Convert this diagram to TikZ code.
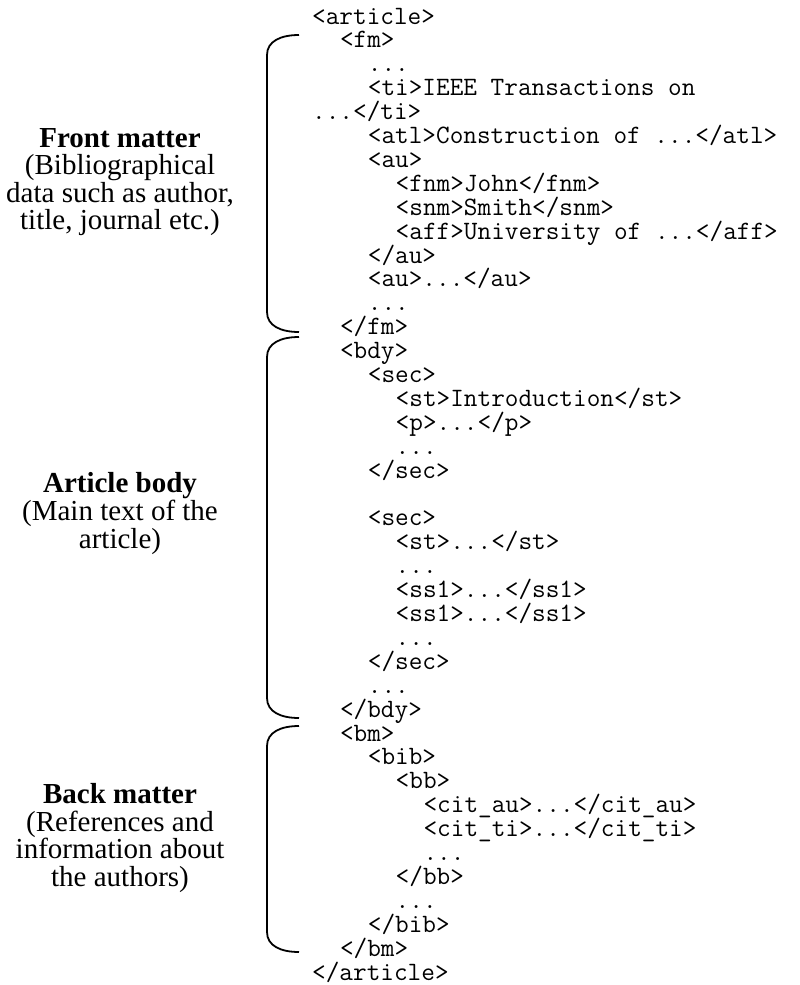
\documentclass[tikz,border=0pt]{standalone}
\usepackage{fontspec}
\setmainfont{Liberation Serif}

% one line of the XML listing: line number, indent (in characters), text
\newcommand\xmlline[3]{%
  \node[xmltext] (x#1) at ({312+13.92*#2},{24+23.9*(#1-1)}) {#3};}
% rounded bracket to the left of a block: name, top y, bottom y
\newcommand\sidebrace[3]{%
  \coordinate (#1t) at (299,#2);
  \coordinate (#1b) at (299,#3);
  \draw[bracestroke] (#1t) .. controls (281,#2) and (267,{#2+6}) .. (267,{#2+20})
    -- (267,{#3-20}) .. controls (267,{#3-6}) and (281,#3) .. (#1b);}

\begin{document}
\begin{tikzpicture}[x=1pt,y=-1pt,
  xmltext/.style={anchor=base west,inner sep=0pt,
    font=\ttfamily\fontsize{26.5}{23.9}\selectfont},
  lbl/.style={anchor=base,inner sep=0pt,
    font=\fontsize{29}{29}\selectfont},
  lblhead/.style={anchor=base,inner sep=0pt,
    font=\fontsize{29}{29}\selectfont\bfseries},
  bracestroke/.style={line width=1.8pt}]

\fill[white] (0,0) rectangle (800,985);
\useasboundingbox (0,0) rectangle (800,985);

% XML listing
\xmlline{1}{0}{<article>}
\xmlline{2}{2}{<fm>}
\xmlline{3}{4}{...}
\xmlline{4}{4}{<ti>IEEE Transactions on}
\xmlline{5}{0}{...</ti>}
\xmlline{6}{4}{<atl>Construction of ...</atl>}
\xmlline{7}{4}{<au>}
\xmlline{8}{6}{<fnm>John</fnm>}
\xmlline{9}{6}{<snm>Smith</snm>}
\xmlline{10}{6}{<aff>University of ...</aff>}
\xmlline{11}{4}{</au>}
\xmlline{12}{4}{<au>...</au>}
\xmlline{13}{4}{...}
\xmlline{14}{2}{</fm>}
\xmlline{15}{2}{<bdy>}
\xmlline{16}{4}{<sec>}
\xmlline{17}{6}{<st>Introduction</st>}
\xmlline{18}{6}{<p>...</p>}
\xmlline{19}{6}{...}
\xmlline{20}{4}{</sec>}
\xmlline{22}{4}{<sec>}
\xmlline{23}{6}{<st>...</st>}
\xmlline{24}{6}{...}
\xmlline{25}{6}{<ss1>...</ss1>}
\xmlline{26}{6}{<ss1>...</ss1>}
\xmlline{27}{6}{...}
\xmlline{28}{4}{</sec>}
\xmlline{29}{4}{...}
\xmlline{30}{2}{</bdy>}
\xmlline{31}{2}{<bm>}
\xmlline{32}{4}{<bib>}
\xmlline{33}{6}{<bb>}
\xmlline{34}{8}{<cit\_au>...</cit\_au>}
\xmlline{35}{8}{<cit\_ti>...</cit\_ti>}
\xmlline{36}{8}{...}
\xmlline{37}{6}{</bb>}
\xmlline{38}{6}{...}
\xmlline{39}{4}{</bib>}
\xmlline{40}{2}{</bm>}
\xmlline{41}{0}{</article>}

% brackets grouping the three parts
\sidebrace{front}{35}{332}
\sidebrace{body}{337}{718}
\sidebrace{back}{726}{952}

% part descriptions
\node[lblhead] (fm1) at (120,147)   {Front matter};
\node[lbl]     (fm2) at (120,174.8) {(Bibliographical};
\node[lbl]     (fm3) at (120,202.3) {data such as author,};
\node[lbl]     (fm4) at (120,229.8) {title, journal etc.)};

\node[lblhead] (bd1) at (120,492)   {Article body};
\node[lbl]     (bd2) at (120,520.5) {(Main text of the};
\node[lbl]     (bd3) at (120,548.5) {article)};

\node[lblhead] (bk1) at (120,803)   {Back matter};
\node[lbl]     (bk2) at (120,831)   {(References and};
\node[lbl]     (bk3) at (120,858.5) {information about};
\node[lbl]     (bk4) at (120,886.5) {the authors)};
\end{tikzpicture}
\end{document}
